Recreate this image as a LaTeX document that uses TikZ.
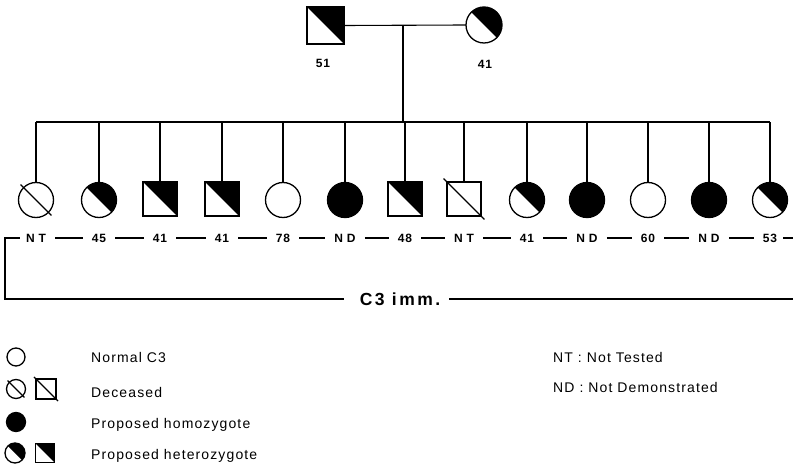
\documentclass[tikz,border=0pt]{standalone}
\usepackage{fontspec}
\setmainfont{Liberation Sans}
\newfontfamily\lblfont[LetterSpace=6]{Liberation Sans}
\newfontfamily\lblfontw[LetterSpace=32]{Liberation Sans}
\newfontfamily\bigfont[LetterSpace=14]{Liberation Sans}
\newfontfamily\legfont[LetterSpace=8]{Liberation Sans}
\usetikzlibrary{calc}
\begin{document}
\begin{tikzpicture}[x=1pt,y=1pt,
  sym/.style={draw=black, line width=1.3pt, inner sep=0pt, outer sep=0pt},
  fem/.style={sym, circle, minimum size=35pt},
  mal/.style={sym, rectangle, minimum size=34pt},
  het/.style={path picture={\fill[black] (path picture bounding box.north west) -- (path picture bounding box.north east) -- (path picture bounding box.south east) -- cycle;}},
  hom/.style={fill=black},
  conn/.style={line width=1.1pt},
  dsh/.style={line width=1.2pt},
  brk/.style={line width=1.4pt},
  slash/.style={line width=1.1pt},
  lbl/.style={inner sep=0pt, font=\lblfont\bfseries\fontsize{12}{14}\selectfont},
  lblw/.style={inner sep=0pt, font=\lblfontw\bfseries\fontsize{12}{14}\selectfont},
  big/.style={inner sep=0pt, font=\bigfont\bfseries\fontsize{17.5}{19}\selectfont},
  leg/.style={inner sep=0pt, anchor=west, font=\legfont\fontsize{14}{16}\selectfont}
]
\useasboundingbox[fill=white] (0,0) rectangle (793,-470);

% parents
\node[mal, het, minimum size=37pt] (f) at (325.5,-25.5) {};
\node[fem, het, minimum size=36pt] (m) at (484,-25) {};
\node[lbl] (f51) at (323,-63) {51};
\node[lbl] (m41) at (485,-64) {41};
\coordinate (mid) at (403,-25);
\coordinate (sibtop) at (403,-122);
\draw[conn] (f.east) -- (m.west);
\draw[conn] (mid) -- (sibtop);

% children
\node[fem] (c1) at (36,-200) {};
\node[fem, het] (c2) at (99,-200) {};
\node[mal, het] (c3) at (160,-199) {};
\node[mal, het] (c4) at (222,-199) {};
\node[fem] (c5) at (283,-200) {};
\node[fem, hom] (c6) at (345,-200) {};
\node[mal, het] (c7) at (405,-199) {};
\node[mal] (c8) at (464,-199) {};
\node[fem, het] (c9) at (527,-200) {};
\node[fem, hom] (c10) at (587,-200) {};
\node[fem] (c11) at (648,-200) {};
\node[fem, hom] (c12) at (709,-200) {};
\node[fem, het] (c13) at (770,-200) {};

\draw[slash] ($(c1.center)!1.25!(c1.north west)$) -- ($(c1.center)!1.25!(c1.south east)$);
\draw[slash] ($(c8.center)!1.2!(c8.north west)$) -- ($(c8.center)!1.2!(c8.south east)$);

\draw[conn] (c1.north |- sibtop) -- (c13.north |- sibtop);
\foreach \i in {1,...,13} \draw[conn] (c\i.north) -- (c\i.north |- sibtop);

% C3 values
\node[lblw] (l1) at (36,-238) {NT};
\node[lbl] (l2) at (99,-238) {45};
\node[lbl] (l3) at (160,-238) {41};
\node[lbl] (l4) at (222,-238) {41};
\node[lbl] (l5) at (283,-238) {78};
\node[lblw] (l6) at (345,-238) {ND};
\node[lbl] (l7) at (405,-238) {48};
\node[lblw] (l8) at (464,-238) {NT};
\node[lbl] (l9) at (527,-238) {41};
\node[lblw] (l10) at (587,-238) {ND};
\node[lbl] (l11) at (648,-238) {60};
\node[lblw] (l12) at (709,-238) {ND};
\node[lbl] (l13) at (770,-238) {53};
\foreach \a/\b in {1/2,2/3,3/4,4/5,5/6,6/7,7/8,8/9,9/10,10/11,11/12,12/13}
  \draw[dsh] ($(l\a.east)+(9,0)$) -- ($(l\b.west)+(-9,0)$);

\node[big] (c3imm) at (400,-299) {C3 imm.};
\coordinate (bl) at (5,-238);
\coordinate (bb) at (5,-299);
\coordinate (br) at (793,-299);
\coordinate (tr) at (793,-238);
\draw[brk] ($(l1.west)+(-6,0)$) -- (bl) -- (bb) -- ($(c3imm.west)+(-16,0)$);
\draw[brk, line width=1.7pt] ($(c3imm.east)+(9,0)$) -- (br);
\draw[dsh] ($(l13.east)+(6,0)$) -- (tr);

% legend
\node[fem, minimum size=18pt] (g1) at (16,-357) {};
\node[fem, minimum size=19pt] (g2a) at (16,-389) {};
\node[mal, minimum size=20pt] (g2b) at (46,-389) {};
\draw[slash] ($(g2a.center)!1.25!(g2a.north west)$) -- ($(g2a.center)!1.25!(g2a.south east)$);
\draw[slash] ($(g2b.center)!1.2!(g2b.north west)$) -- ($(g2b.center)!1.2!(g2b.south east)$);
\node[fem, hom, minimum size=19pt] (g3) at (16,-422) {};
\node[fem, het, minimum size=20pt] (g4a) at (15,-453) {};
\node[mal, het, minimum size=19pt] (g4b) at (45,-453) {};

\node[leg] (t1) at (91,-357) {Normal C3};
\node[leg] (t2) at (91,-392) {Deceased};
\node[leg] (t3) at (91,-425) {Proposed homozygote};
\node[leg] (t4) at (91,-456) {Proposed heterozygote};
\node[leg] (t5) at (553,-357) {NT : Not Tested};
\node[leg] (t6) at (553,-387) {ND : Not Demonstrated};
\end{tikzpicture}
\end{document}
